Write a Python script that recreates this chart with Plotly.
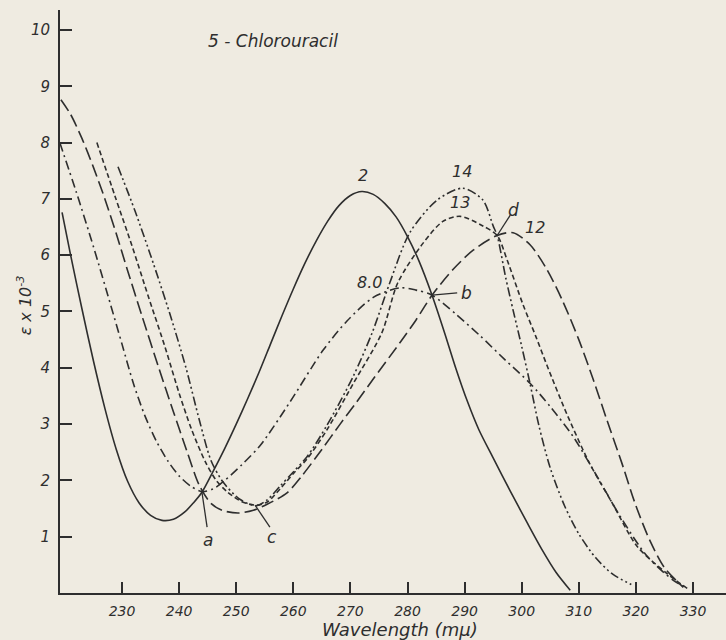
import plotly.graph_objects as go

# ---- data (wavelength in m\u03bc, epsilon x 10^-3) ----
wl_ph2 = [219.5, 221.0, 223.0, 225.0, 227.0, 229.0, 231.0, 233.0, 235.0, 237.0, 239.0, 241.0,
          242.5, 244.0, 246.0, 248.0, 250.0, 252.0, 254.0, 256.0, 258.0, 260.0, 262.0, 264.0,
          266.0, 268.0, 270.0, 272.0, 274.0, 276.0, 278.0, 280.0, 282.0, 284.3, 286.5, 288.5,
          290.5, 292.5, 295.0, 298.0, 301.0, 303.5, 306.0, 308.5]
eps_ph2 = [6.76, 6.00, 5.04, 4.12, 3.28, 2.55, 1.98, 1.60, 1.38, 1.29, 1.31, 1.44,
           1.60, 1.79, 2.17, 2.57, 3.00, 3.45, 3.92, 4.42, 4.92, 5.40, 5.85, 6.25,
           6.60, 6.88, 7.06, 7.13, 7.08, 6.92, 6.68, 6.33, 5.90, 5.29, 4.62, 3.98,
           3.40, 2.90, 2.40, 1.81, 1.24, 0.78, 0.37, 0.05]

wl_ph8 = [219.1, 222.0, 225.0, 228.0, 230.0, 232.0, 234.0, 236.0, 238.0, 240.0, 242.0, 244.0,
          246.0, 248.0, 251.0, 254.2, 259.4, 265.2, 269.4, 274.0, 278.7, 281.5, 284.3, 288.5,
          292.7, 297.0, 301.5, 305.0, 309.0, 313.2, 317.2, 321.9, 326.5, 329.0]
eps_ph8 = [8.00, 7.12, 6.15, 5.12, 4.42, 3.72, 3.15, 2.70, 2.35, 2.08, 1.90, 1.80,
           1.85, 2.00, 2.28, 2.62, 3.39, 4.31, 4.83, 5.25, 5.42, 5.38, 5.29, 4.95,
           4.57, 4.15, 3.72, 3.31, 2.78, 2.07, 1.37, 0.66, 0.23, 0.08]

wl_ph12 = [219.3, 221.0, 223.0, 225.0, 227.0, 229.0, 231.0, 233.5, 236.5, 239.0, 241.5, 243.5,
           245.5, 247.5, 250.3, 253.0, 255.5, 258.9, 261.5, 265.0, 268.2, 271.0, 274.0, 278.7,
           281.5, 284.3, 288.0, 291.5, 295.7, 298.5, 301.5, 304.4, 307.2, 310.0, 312.5, 315.0,
           317.5, 320.0, 322.5, 325.0, 328.3]
eps_ph12 = [8.76, 8.50, 8.07, 7.56, 7.00, 6.38, 5.72, 4.92, 3.98, 3.22, 2.48, 1.92,
            1.60, 1.47, 1.42, 1.47, 1.58, 1.78, 2.08, 2.55, 3.00, 3.38, 3.80, 4.45,
            4.85, 5.29, 5.75, 6.09, 6.35, 6.40, 6.18, 5.75, 5.18, 4.50, 3.80, 3.05,
            2.32, 1.55, 0.92, 0.45, 0.10]

wl_ph13 = [225.6, 228.8, 231.8, 234.6, 237.5, 240.0, 242.2, 244.6, 246.5, 248.4, 251.0, 253.5,
           255.5, 257.7, 260.0, 262.4, 265.9, 270.5, 275.5, 278.3, 282.7, 286.2, 289.2, 293.2,
           295.7, 297.5, 300.2, 302.5, 304.4, 307.9, 311.9, 315.9, 320.2, 325.4, 329.0]
eps_ph13 = [8.00, 7.04, 6.15, 5.27, 4.38, 3.55, 2.90, 2.33, 2.00, 1.80, 1.62, 1.56,
            1.62, 1.85, 2.12, 2.38, 2.90, 3.72, 4.62, 5.51, 6.21, 6.60, 6.69, 6.52,
            6.35, 5.90, 5.13, 4.55, 4.05, 3.18, 2.30, 1.59, 0.83, 0.35, 0.08]

wl_ph14 = [229.3, 232.3, 235.5, 238.5, 241.2, 243.6, 245.6, 247.7, 250.7, 253.5, 255.5, 257.7,
           260.0, 262.4, 265.9, 270.5, 273.8, 276.9, 280.4, 285.2, 289.7, 293.2, 295.0, 295.7,
           297.2, 298.5, 300.0, 301.5, 303.0, 305.0, 307.5, 310.0, 313.0, 316.0, 319.2]
eps_ph14 = [7.57, 6.78, 5.85, 4.92, 4.00, 3.05, 2.35, 1.97, 1.66, 1.55, 1.66, 1.90,
            2.15, 2.42, 2.98, 3.85, 4.62, 5.51, 6.40, 6.98, 7.19, 6.98, 6.52, 6.35,
            5.60, 5.02, 4.38, 3.70, 2.98, 2.22, 1.55, 1.05, 0.62, 0.33, 0.15]

curve_labels = ["2", "14", "13", "12", "8.0"]
curve_label_wl = [272.2, 289.5, 289.2, 302.3, 273.4]
curve_label_eps = [7.42, 7.48, 6.93, 6.50, 5.52]

iso_names = ["a", "b", "c", "d"]
iso_wl = [244.0, 284.3, 253.3, 295.7]
iso_eps = [1.79, 5.29, 1.56, 6.35]
iso_text_wl = [245.1, 290.4, 256.3, 298.5]
iso_text_eps = [0.94, 5.33, 0.99, 6.80]
iso_lead_wl = [244.9, 288.7, 255.9, 298.0]
iso_lead_eps = [1.17, 5.33, 1.17, 6.71]

x_ticks = [230, 240, 250, 260, 270, 280, 290, 300, 310, 320, 330]
y_ticks = [1, 2, 3, 4, 5, 6, 7, 8, 9, 10]

INK = "#2e2e2e"
BG = "#efebe1"
FONT = "DejaVu Sans"

series = [
    (wl_ph2, eps_ph2, "solid"),
    (wl_ph8, eps_ph8, "9px,4px,2px,4px"),
    (wl_ph12, eps_ph12, "13px,5px"),
    (wl_ph13, eps_ph13, "5px,3px"),
    (wl_ph14, eps_ph14, "9px,3px,2px,3px,2px,3px"),
]

fig = go.Figure()
for xs, ys, dash in series:
    fig.add_trace(go.Scatter(
        x=xs, y=ys, mode="lines",
        line=dict(color=INK, width=1.6, dash=dash, shape="spline", smoothing=0.8),
        hoverinfo="skip", showlegend=False))

for t, x, y in zip(curve_labels, curve_label_wl, curve_label_eps):
    fig.add_annotation(x=x, y=y, text=t, showarrow=False,
                       font=dict(family=FONT, size=16, color=INK, style="italic"))

for t, x0, y0, x1, y1, tx, ty in zip(iso_names, iso_wl, iso_eps, iso_lead_wl, iso_lead_eps,
                                     iso_text_wl, iso_text_eps):
    fig.add_shape(type="line", x0=x0, y0=y0, x1=x1, y1=y1,
                  line=dict(color=INK, width=1.3))
    fig.add_annotation(x=tx, y=ty, text=t, showarrow=False,
                       font=dict(family=FONT, size=17, color=INK, style="italic"))

fig.add_annotation(xref="paper", yref="paper", x=0.32, y=0.947, text="5 - Chlorouracil",
                   showarrow=False, xanchor="center", yanchor="middle",
                   font=dict(family=FONT, size=17, color=INK, style="italic"))
fig.add_annotation(xref="paper", yref="paper", x=-0.052, y=0.494, xanchor="center",
                   yanchor="middle",
                   text="\u03b5 x 10<sup>-3</sup>", textangle=-90, showarrow=False,
                   font=dict(family=FONT, size=16, color=INK, style="italic"))
fig.add_annotation(xref="paper", yref="paper", x=0.51, y=-0.062,
                   text="Wavelength (m\u03bc)", showarrow=False, yanchor="middle",
                   font=dict(family=FONT, size=18, color=INK, style="italic"))

fig.update_xaxes(range=[219.14, 335.78], tickvals=x_ticks, ticks="inside", ticklen=11,
                 tickwidth=1.5, tickcolor=INK, showline=True, linecolor=INK, linewidth=2,
                 showgrid=False, zeroline=False, ticklabelstandoff=4,
                 tickfont=dict(family=FONT, size=14, color=INK, style="italic"))
fig.update_yaxes(range=[0, 10.355], tickvals=y_ticks, ticks="inside", ticklen=12,
                 tickwidth=1.5, tickcolor=INK, showline=True, linecolor=INK, linewidth=2,
                 showgrid=False, zeroline=False, ticklabelstandoff=5,
                 tickfont=dict(family=FONT, size=15, color=INK, style="italic"))

fig.update_layout(width=726, height=640, margin=dict(l=60, r=0, t=10, b=47),
                  paper_bgcolor=BG, plot_bgcolor=BG)

fig.write_html("out.html")
